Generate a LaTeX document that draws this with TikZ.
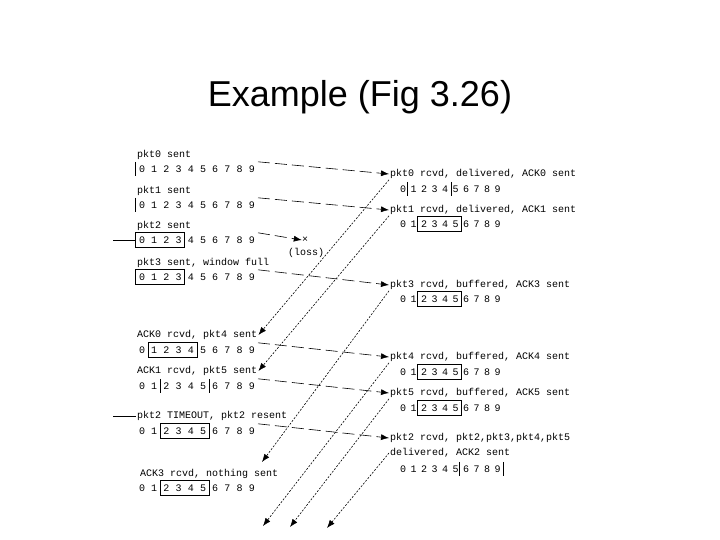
\documentclass[tikz,border=0pt]{standalone}
\usepackage{fontspec}
\setmainfont{Liberation Sans}
\newfontfamily\mono{Liberation Mono}
\usetikzlibrary{arrows.meta}

% one window row: name, x of digit 0, y, step
\newcommand{\digitrow}[4]{%
  \foreach \d in {0,...,9}{
    \node[digit] (#1\d) at ({#2+#4*\d},#3) {\d};
  }}

\begin{document}
\begin{tikzpicture}[
    x=1pt, y=-1pt,
    every node/.style={font=\mono\fontsize{10}{12}\selectfont},
    msg/.style={anchor=west, inner sep=1pt},
    digit/.style={inner sep=0pt, minimum width=12pt, minimum height=14pt},
    win/.style={line width=0.8pt},
    pkt/.style={-{Latex[length=8pt,width=6pt]}, dash pattern=on 12pt off 5pt, line width=0.6pt},
    ack/.style={-{Latex[length=8pt,width=6pt]}, dash pattern=on 2pt off 1.5pt, line width=0.6pt}
]
\useasboundingbox (0,0) rectangle (720,540);

\node[font=\fontsize{36}{40}\selectfont] (title) at (360,97) {Example (Fig 3.26)};

% sender
\node[msg] (s0t) at (136,155) {pkt0 sent};
\digitrow{s0d}{142}{169}{12.2}
\node[msg] (s1t) at (136,191) {pkt1 sent};
\digitrow{s1d}{142}{205}{12.2}
\node[msg] (s2t) at (136,226) {pkt2 sent};
\digitrow{s2d}{142}{240}{12.2}
\node[msg] (s3t) at (136,263) {pkt3 sent, window full};
\digitrow{s3d}{142}{277}{12.2}
\node[msg] (s4t) at (136,335) {ACK0 rcvd, pkt4 sent};
\digitrow{s4d}{142}{350}{12.2}
\node[msg] (s5t) at (136,371) {ACK1 rcvd, pkt5 sent};
\digitrow{s5d}{142}{386}{12.2}
\node[msg] (s6t) at (136,416) {pkt2 TIMEOUT, pkt2 resent};
\digitrow{s6d}{142}{431}{12.2}
\node[msg] (s7t) at (139,474) {ACK3 rcvd, nothing sent};
\digitrow{s7d}{142}{488}{12.2}

\draw[win] (s0d0.north west) -- (s0d0.south west);
\draw[win] (s1d0.north west) -- (s1d0.south west);
\draw[win] (s2d0.north west) rectangle (s2d3.south east);
\draw[win] (s3d0.north west) rectangle (s3d3.south east);
\draw[win] (s4d1.north west) rectangle (s4d4.south east);
\draw[win] (s5d2.north west) -- (s5d2.south west);
\draw[win] (s5d5.north east) -- (s5d5.south east);
\draw[win] (s6d2.north west) rectangle (s6d5.south east);
\draw[win] (s7d2.north west) rectangle (s7d5.south east);

% timers
\coordinate (t2) at (113,240);
\coordinate (t6) at (113,416);
\draw[line width=0.7pt] (t2) -- (s2d0.west);
\draw[line width=0.7pt] (t6) -- (s6t.west);

% receiver
\node[msg] (r0t) at (389,174) {pkt0 rcvd, delivered, ACK0 sent};
\digitrow{r0d}{403}{189}{10.5}
\node[msg] (r1t) at (389,210) {pkt1 rcvd, delivered, ACK1 sent};
\digitrow{r1d}{403}{224}{10.5}
\node[msg] (r3t) at (389,285) {pkt3 rcvd, buffered, ACK3 sent};
\digitrow{r3d}{403}{299}{10.5}
\node[msg] (r4t) at (389,357) {pkt4 rcvd, buffered, ACK4 sent};
\digitrow{r4d}{403}{372}{10.5}
\node[msg] (r5t) at (389,393) {pkt5 rcvd, buffered, ACK5 sent};
\digitrow{r5d}{403}{408}{10.5}
\node[msg] (r2t) at (389,438) {pkt2 rcvd, pkt2,pkt3,pkt4,pkt5};
\node[msg] (r2u) at (389,453) {delivered, ACK2 sent};
\digitrow{r2d}{403}{469}{10.5}

\draw[win] (r0d1.north west) -- (r0d1.south west);
\draw[win] (r0d4.north east) -- (r0d4.south east);
\draw[win] (r1d2.north west) rectangle (r1d5.south east);
\draw[win] (r3d2.north west) rectangle (r3d5.south east);
\draw[win] (r4d2.north west) rectangle (r4d5.south east);
\draw[win] (r5d2.north west) rectangle (r5d5.south east);
\draw[win] (r2d6.north west) -- (r2d6.south west);
\draw[win] (r2d9.north east) -- (r2d9.south east);

% packets
\node[inner sep=0pt] (loss) at (305,240) {×};
\node[inner sep=1pt] (losst) at (306,253) {(loss)};
\draw[pkt] (s0d9.north east) -- (r0t.west);
\draw[pkt] (s1d9.north east) -- (r1t.west);
\draw[pkt] (s2d9.north east) -- (loss.west);
\draw[pkt] (s3d9.north east) -- (r3t.west);
\draw[pkt] (s4d9.north east) -- (r4t.west);
\draw[pkt] (s5d9.north east) -- (r5t.west);
\draw[pkt] (s6d9.north east) -- (r2t.west);

% acks
\coordinate (a3) at (262,462);
\coordinate (a4) at (263,526);
\coordinate (a5) at (290,527);
\coordinate (a2) at (327,528);
\draw[ack] (r0t.south west) -- (s4t.east);
\draw[ack] (r1t.south west) -- (s5t.east);
\draw[ack] (r3t.south west) -- (a3);
\draw[ack] (r4t.south west) -- (a4);
\draw[ack] (r5t.south west) -- (a5);
\draw[ack] (r2u.west) -- (a2);

\end{tikzpicture}
\end{document}
